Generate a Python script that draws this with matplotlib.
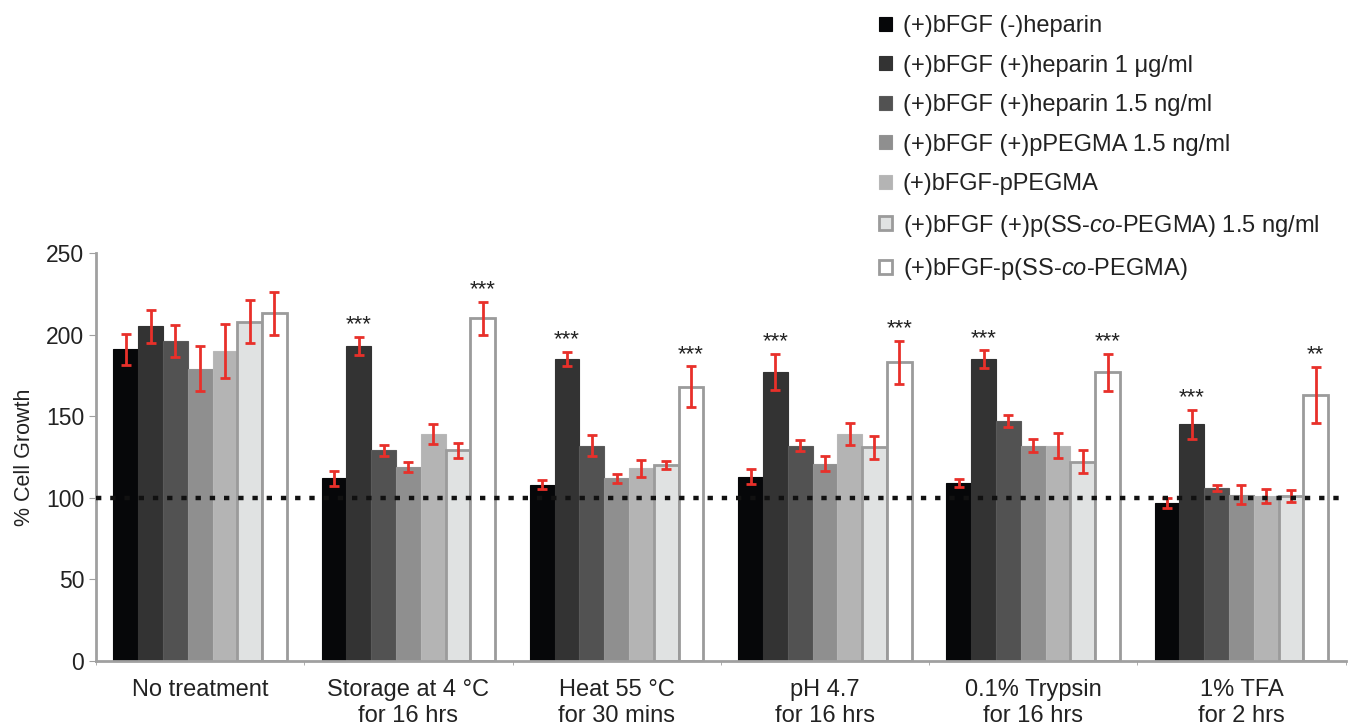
import numpy as np
import matplotlib.pyplot as plt

plt.rcParams['font.family'] = ['Liberation Sans', 'DejaVu Sans']
plt.rcParams['mathtext.fontset'] = 'custom'
plt.rcParams['mathtext.rm'] = 'Liberation Sans'
plt.rcParams['mathtext.it'] = 'Liberation Sans:italic'

groups = ["No treatment", "Storage at 4 °C\nfor 16 hrs", "Heat 55 °C\nfor 30 mins",
          "pH 4.7\nfor 16 hrs", "0.1% Trypsin\nfor 16 hrs", "1% TFA\nfor 2 hrs"]

series = ["(+)bFGF (-)heparin",
          "(+)bFGF (+)heparin 1 μg/ml",
          "(+)bFGF (+)heparin 1.5 ng/ml",
          "(+)bFGF (+)pPEGMA 1.5 ng/ml",
          "(+)bFGF-pPEGMA",
          "(+)bFGF (+)p(SS-$\\mathit{co}$-PEGMA) 1.5 ng/ml",
          "(+)bFGF-p(SS-$\\mathit{co}$-PEGMA)"]

# values per series, one entry per group
vals = [
    [191, 112, 108, 113, 109, 97],
    [205, 193, 185, 177, 185, 145],
    [196, 129, 132, 132, 147, 106],
    [179, 119, 112, 121, 132, 102],
    [190, 139, 118, 139, 132, 101],
    [208, 129, 120, 131, 122, 101],
    [213, 210, 168, 183, 177, 163],
]
errs = [
    [9.5, 4.5, 2.7, 4.5, 2.4, 3.0],
    [10, 5.6, 4.3, 11, 5.3, 8.7],
    [9.6, 3.6, 6.6, 3.4, 3.9, 1.8],
    [13.8, 3.0, 2.8, 4.5, 4.0, 5.6],
    [16.5, 6.0, 5.0, 6.8, 7.5, 4.1],
    [13, 4.6, 2.5, 7.0, 7.0, 3.6],
    [13, 10, 12.5, 13, 11.4, 17.3],
]
# significance marks: (series index, group index, text)
stars = [(1, 1, "***"), (6, 1, "***"), (1, 2, "***"), (6, 2, "***"),
         (1, 3, "***"), (6, 3, "***"), (1, 4, "***"), (6, 4, "***"),
         (1, 5, "***"), (6, 5, "**")]

colors = ["#060709", "#333333", "#525252", "#8f8f8f", "#b4b4b4", "#e0e2e2", "#ffffff"]
edges = ["#060709", "#333333", "#5a5a5a", "#939393", "#b8b8b8", "#9b9b9b", "#9b9b9b"]

fig = plt.figure(figsize=(13.48, 7.25), dpi=100)
ax = fig.add_axes([0.0712, 0.0883, 0.927, 0.5627])

x = np.arange(len(groups))
w = 0.119
for j in range(len(series)):
    xs = x + (j - 3) * w
    lw = 2 if j >= 5 else 0.8
    ax.bar(xs, vals[j], w, color=colors[j], edgecolor=edges[j], linewidth=lw,
           label=series[j], zorder=2)
    ax.errorbar(xs, vals[j], yerr=errs[j], fmt='none', ecolor='#e8302a',
                elinewidth=2, capsize=3.8, capthick=2, zorder=3)

for j, g, s in stars:
    y = vals[j][g] + errs[j][g] + 1
    ax.text(x[g] + (j - 3) * w, y, s, ha='center', va='bottom', fontsize=16, color='#222222')

ax.axhline(100, color='#111111', linestyle=(0, (1.2, 2)), linewidth=3.2, zorder=4)

ax.set_xlim(-0.5, 5.5)
ax.set_ylim(0, 250)
ax.set_yticks([0, 50, 100, 150, 200, 250])
ax.set_xticks(x)
ax.set_xticklabels(groups, fontsize=17, color='#222222', linespacing=1.25)
ax.set_xticks(np.arange(-0.5, 6, 1), minor=True)
ax.tick_params(axis='x', which='major', length=0, pad=13)
ax.tick_params(axis='x', which='minor', length=3, color='#a0a0a0')
ax.tick_params(axis='y', length=5, color='#a0a0a0', labelsize=16.5, labelcolor='#222222')
ax.set_ylabel("% Cell Growth", fontsize=15.5, color='#222222', labelpad=8)

for sp in ['top', 'right']:
    ax.spines[sp].set_visible(False)
for sp in ['left', 'bottom']:
    ax.spines[sp].set_color('#a0a0a0')
    ax.spines[sp].set_linewidth(2)
ax.spines['left'].set_bounds(0, 250)

leg = fig.legend(loc='upper left', bbox_to_anchor=(0.652, 0.979), frameon=False,
                 fontsize=17, handlelength=0.55, handleheight=0.55, handletextpad=0.45,
                 labelspacing=0.74, labelcolor='#222222', borderpad=0, borderaxespad=0)

fig.savefig("out.png", dpi=100)
